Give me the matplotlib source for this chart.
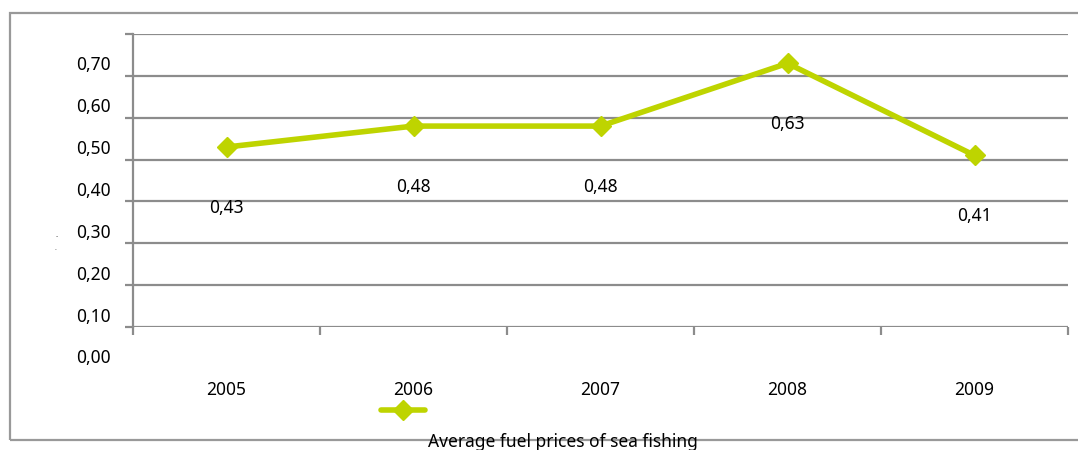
import matplotlib.pyplot as plt
from matplotlib.patches import Rectangle

plt.rcParams['font.family'] = ['Noto Sans', 'DejaVu Sans']

years = ['2005', '2006', '2007', '2008', '2009']
prices = [0.43, 0.48, 0.48, 0.63, 0.41]
price_labels = ['0,43', '0,48', '0,48', '0,63', '0,41']
axis_labels = ['0,00', '0,10', '0,20', '0,30', '0,40', '0,50', '0,60', '0,70']
series_name = 'Average fuel prices of sea fishing'

line_color = '#bed400'
grid_color = '#8c8c8c'

fig = plt.figure(figsize=(10.78, 4.5), dpi=100)
fig.patch.set_facecolor('white')

# outer frame of the chart area
fig.patches.append(Rectangle((10 / 1078, 10 / 450), 1.2, 427 / 450, transform=fig.transFigure,
                             fill=False, edgecolor='#999999', linewidth=1.6, zorder=0))

ax = fig.add_axes([133 / 1078, 123 / 450, 935 / 1078, 293 / 450])
x = [i + 0.5 for i in range(len(years))]

ax.set_xlim(0, len(years))
ax.set_ylim(0, 0.7)

for v in [i / 10 for i in range(8)]:
    ax.axhline(v, color=grid_color, lw=1.6, zorder=1)

for s in ['top', 'right', 'bottom']:
    ax.spines[s].set_visible(False)
ax.spines['left'].set_color(grid_color)
ax.spines['left'].set_linewidth(1.6)

ax.set_yticks([i / 10 for i in range(8)])
ax.set_yticklabels([])
ax.tick_params(axis='y', length=6, width=1.6, color=grid_color)

ax.set_xticks(range(len(years) + 1))
ax.set_xticklabels([])
ax.tick_params(axis='x', which='major', length=5.5, width=1.6, color=grid_color)
ax.set_xticks(x, minor=True)
ax.set_xticklabels(years, minor=True, fontsize=12.5)
ax.tick_params(axis='x', which='minor', length=0, pad=39)

# value labels on the axis sit a little above each gridline
for i, lab in enumerate(axis_labels):
    ax.text(-22 / 935, i / 10 - 0.075, lab, transform=ax.get_yaxis_transform(),
            ha='right', va='center', fontsize=12.5, clip_on=False)

ax.plot(x, prices, color=line_color, lw=4, marker='D', markersize=10, zorder=3, clip_on=False)

for xi, yi, lab in zip(x, prices, price_labels):
    ax.annotate(lab, (xi, yi), xytext=(0, -61), textcoords='offset pixels',
                ha='center', va='center', fontsize=12.5)

# legend entry below the axis
fig.add_artist(plt.Line2D([381 / 1078, 425 / 1078], [40 / 450, 40 / 450], color=line_color,
                          lw=4, solid_capstyle='round', transform=fig.transFigure))
fig.add_artist(plt.Line2D([403 / 1078], [40 / 450], color=line_color, marker='D',
                          markersize=10, transform=fig.transFigure))
fig.text(563 / 1078, 17 / 450, series_name, ha='center', va='top', fontsize=12.5)

# leftover of the vertical axis title
fig.text(57 / 1078, 213 / 450, '-', ha='center', va='center', fontsize=5, color='#555555')
fig.text(55 / 1078, 201 / 450, '.', ha='center', va='center', fontsize=5, color='#555555')

fig.savefig('out.png', dpi=100, facecolor='white')
